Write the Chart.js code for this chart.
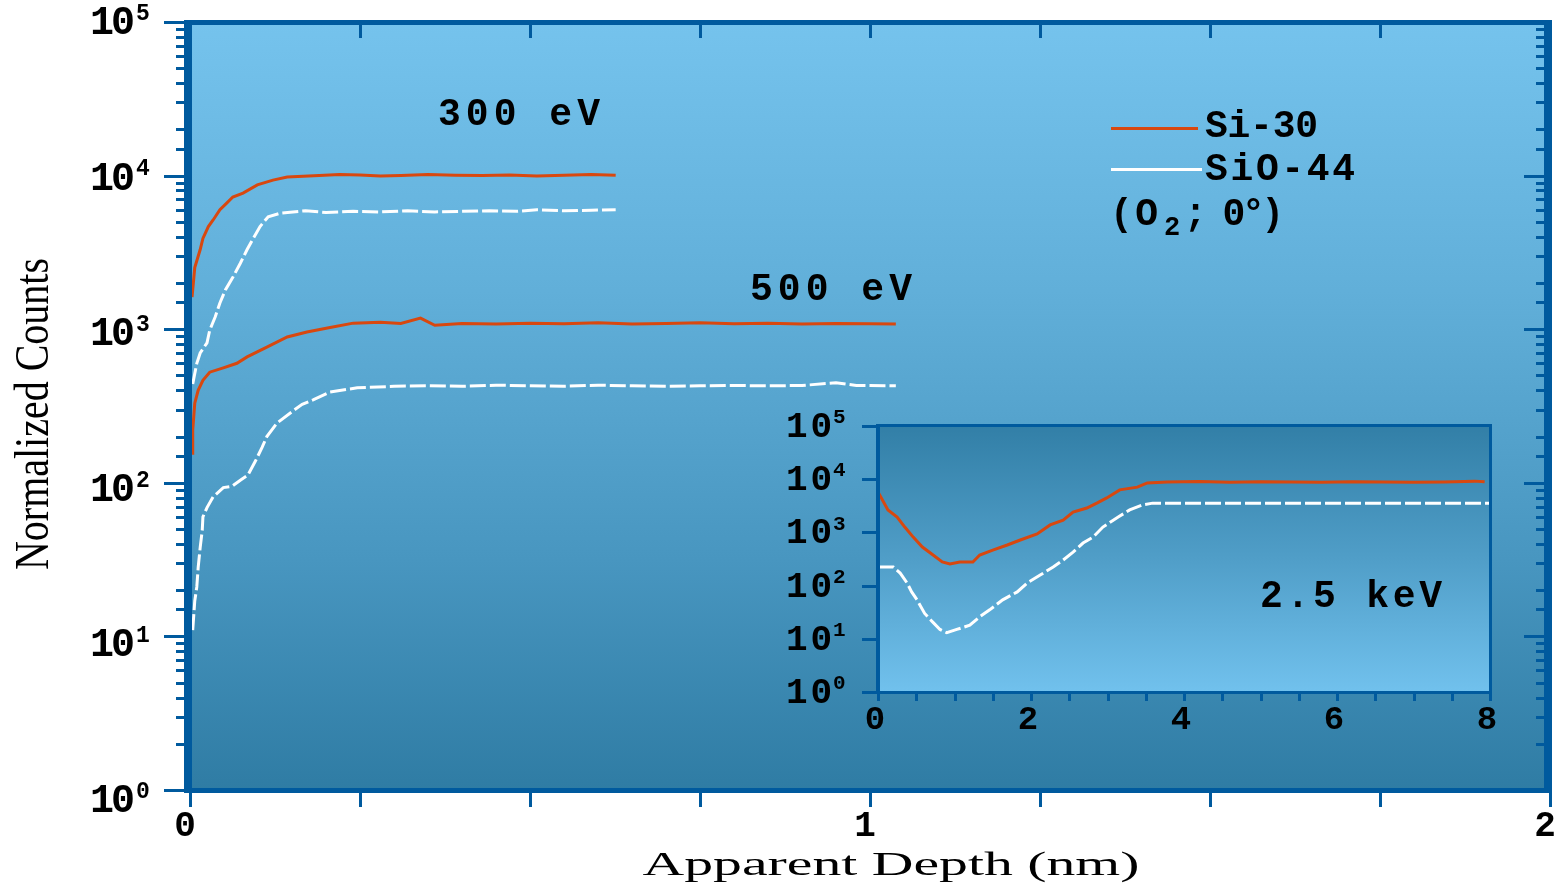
<!DOCTYPE html>
<html>
<head>
<meta charset="utf-8">
<title>Normalized Counts vs Apparent Depth</title>
<script src="https://cdn.jsdelivr.net/npm/chart.js@4.4.1/dist/chart.umd.min.js"></script>
<style>
  html, body { margin: 0; padding: 0; background: #fff; }
  #wrap { position: relative; width: 1557px; height: 886px; overflow: hidden; }
  canvas { position: absolute; }
  #depthChart { left: 0; top: 0; }
  #insetChart { left: 740px; top: 400px; }
</style>
</head>
<body>
<div id="wrap">
  <canvas id="depthChart" width="1557" height="886"></canvas>
  <canvas id="insetChart" width="790" height="345"></canvas>
</div>
<script>
// ---- values ----
// main plot, 300 eV
const depth300Si = [0.003, 0.007, 0.015, 0.019, 0.027, 0.034, 0.044, 0.054, 0.063, 0.078, 0.099, 0.122, 0.143,
  0.19, 0.22, 0.25, 0.28, 0.31, 0.35, 0.39, 0.43, 0.47, 0.51, 0.55, 0.59, 0.626];
const counts300Si = [1620, 2520, 3300, 3900, 4660, 5140, 6000, 6620, 7250, 7700, 8700, 9350, 9800,
  10000, 10150, 10100, 9950, 10000, 10150, 10050, 10000, 10100, 9950, 10050, 10150, 10050];
const depth300SiO = [0.004, 0.010, 0.015, 0.025, 0.029, 0.037, 0.044, 0.052, 0.063, 0.074, 0.084, 0.093, 0.103, 0.115, 0.133,
  0.17, 0.2, 0.24, 0.28, 0.32, 0.36, 0.40, 0.44, 0.48, 0.51, 0.55, 0.59, 0.626];
const counts300SiO = [440, 600, 700, 815, 985, 1200, 1480, 1800, 2180, 2690, 3300, 3900, 4660, 5400, 5700,
  5900, 5750, 5850, 5800, 5900, 5800, 5850, 5900, 5850, 6000, 5900, 5950, 6000];

// main plot, 500 eV
const depth500Si = [0.003, 0.004, 0.007, 0.012, 0.019, 0.029, 0.049, 0.069, 0.084, 0.113, 0.143, 0.172, 0.206, 0.24,
  0.28, 0.31, 0.339, 0.36, 0.4, 0.45, 0.5, 0.55, 0.6, 0.65, 0.7, 0.75, 0.8, 0.85, 0.9, 0.95, 1.0, 1.038];
const counts500Si = [156, 220, 330, 400, 465, 525, 560, 600, 660, 765, 890, 960, 1025, 1095,
  1110, 1090, 1180, 1060, 1090, 1080, 1095, 1085, 1100, 1080, 1090, 1100, 1085, 1095, 1080, 1090, 1085, 1080];
const depth500SiO = [0.004, 0.007, 0.010, 0.012, 0.015, 0.018, 0.019, 0.025, 0.034, 0.049, 0.062, 0.074, 0.085, 0.096,
  0.106, 0.113, 0.128, 0.152, 0.165, 0.181, 0.206, 0.246,
  0.3, 0.35, 0.4, 0.45, 0.5, 0.55, 0.6, 0.65, 0.7, 0.75, 0.8, 0.85, 0.9, 0.95, 0.98, 1.038];
const counts500SiO = [11, 17, 21, 28, 38, 49, 60, 69, 81, 93, 95, 104, 112, 138, 170, 200, 245, 295, 324, 347, 390, 415,
  425, 428, 425, 432, 428, 425, 432, 428, 425, 428, 430, 428, 430, 448, 430, 428];

// inset, 2.5 keV
const insetDepthSi = [0, 0.13, 0.25, 0.35, 0.46, 0.58, 0.72, 0.84, 0.94, 1.07, 1.24, 1.33, 1.50, 1.69, 1.86, 2.08, 2.25,
  2.42, 2.55, 2.73, 2.86, 2.99, 3.16, 3.39, 3.52, 3.78, 4.2, 4.6, 5.0, 5.4, 5.8, 6.2, 6.6, 7.0, 7.4, 7.8, 7.93];
const insetCountsSi = [5750, 2640, 1950, 1260, 815, 530, 375, 278, 255, 278, 278, 375, 465, 580, 720, 935, 1380,
  1700, 2400, 2870, 3550, 4450, 6300, 7100, 8500, 8900, 9100, 8800, 9000, 8900, 8800, 9000, 8900, 8800, 8900, 9200, 9000];
const insetDepthSiO = [0, 0.2, 0.29, 0.38, 0.44, 0.51, 0.61, 0.71, 0.81, 0.90, 1.03, 1.20, 1.33, 1.46, 1.63, 1.82,
  1.95, 2.12, 2.29, 2.42, 2.55, 2.68, 2.81, 2.94, 3.14, 3.29, 3.46, 3.59, 4.5, 5.5, 6.5, 8.0];
const insetCountsSiO = [224, 224, 172, 112, 76, 54, 30, 21, 15, 13, 15, 18, 26, 35, 54, 76,
  112, 158, 224, 302, 427, 630, 815, 1260, 1950, 2640, 3300, 3550, 3550, 3550, 3550, 3550];

// labels
const seriesNames = ["Si-30", "SiO-44"];
const beamNote = ["(O", "2", "; 0°)"]; // (O₂; 0°) with a lowered 2
const energyLabels = ["300 eV", "500 eV", "2.5 keV"];
const xTitle = "Apparent Depth (nm)";
const yTitle = "Normalized Counts";

// ---- styles ----
const siColor = "#d8480f";
const sioColor = "#ffffff";
const axisBlue = "#005a9e";
const monoFont = "'Liberation Mono', 'DejaVu Sans Mono', monospace";
const serifFont = "'Liberation Serif', 'DejaVu Serif', serif";

function toPoints(xs, ys) {
  return xs.map((x, i) => ({ x: x, y: ys[i] }));
}

function decadeOf(v) {
  const e = Math.round(Math.log10(v));
  return Math.abs(v - Math.pow(10, e)) < 1e-6 * v ? e : null;
}

// text stretched to a given width by letter spacing
function spacedText(ctx, text, left, midY, font, width) {
  ctx.font = font;
  ctx.letterSpacing = "0px";
  const natural = ctx.measureText(text).width;
  const gap = text.length > 1 ? (width - natural) / (text.length - 1) : 0;
  ctx.letterSpacing = gap + "px";
  ctx.textAlign = "left";
  ctx.textBaseline = "middle";
  ctx.fillText(text, left, midY);
  ctx.letterSpacing = "0px";
}

// text squeezed / stretched horizontally to a given width
function scaledText(ctx, text, cx, midY, font, width) {
  ctx.save();
  ctx.font = font;
  const natural = ctx.measureText(text).width;
  ctx.translate(cx, midY);
  ctx.scale(width / natural, 1);
  ctx.textAlign = "center";
  ctx.textBaseline = "middle";
  ctx.fillText(text, 0, 0);
  ctx.restore();
}

// "10" with a raised exponent
function powerLabel(ctx, e, left, mid, baseFont, baseWidth, expFont) {
  spacedText(ctx, "10", left, mid, baseFont, baseWidth);
  ctx.font = expFont;
  ctx.textAlign = "left";
  ctx.textBaseline = "middle";
  ctx.fillText(String(e), left + baseWidth + 1, mid - 10);
}

function lineSet(label, xs, ys, color, dashed) {
  return {
    label: label,
    data: toPoints(xs, ys),
    borderColor: color,
    borderWidth: 3,
    borderDash: dashed ? [16, 4] : [],
    pointRadius: 0,
    tension: 0,
    fill: false,
  };
}

// ---- main chart ----
const mainFrame = {
  id: "mainFrame",
  beforeDraw(chart) {
    const { ctx, chartArea: a } = chart;
    const g = ctx.createLinearGradient(0, a.top, 0, a.bottom);
    g.addColorStop(0, "rgb(117,195,237)");
    g.addColorStop(0.35, "rgb(97,175,217)");
    g.addColorStop(0.7, "rgb(72,150,192)");
    g.addColorStop(1, "rgb(47,124,164)");
    ctx.save();
    ctx.fillStyle = g;
    ctx.fillRect(a.left, a.top, a.right - a.left, a.bottom - a.top);
    ctx.restore();
  },
  afterDatasetsDraw(chart) {
    const { ctx, chartArea: a, scales } = chart;
    const x = scales.x, y = scales.y;
    ctx.save();
    ctx.fillStyle = axisBlue;
    y.ticks.forEach(t => {
      const py = Math.round(y.getPixelForValue(t.value));
      const len = decadeOf(t.value) !== null ? 20 : 8;
      ctx.fillRect(a.left - 6 - len, py - 1, len, 3);
      ctx.fillRect(a.right - 6 - len, py - 1, len, 3);
    });
    x.ticks.forEach(t => {
      const px = Math.round(x.getPixelForValue(t.value));
      ctx.fillRect(px - 1, a.bottom + 3, 3, 14);
      ctx.fillRect(px - 1, a.top + 3, 3, 13);
    });
    ctx.fillRect(a.left - 6, a.top - 2, a.right - a.left + 8, 5);
    ctx.fillRect(a.left - 6, a.bottom - 2, a.right - a.left + 8, 5);
    ctx.fillRect(a.left - 6, a.top - 2, 8, a.bottom - a.top + 5);
    ctx.fillRect(a.right - 6, a.top - 2, 8, a.bottom - a.top + 5);
    ctx.restore();
  },
  afterDraw(chart) {
    const { ctx, scales } = chart;
    const x = scales.x, y = scales.y;
    ctx.save();
    ctx.fillStyle = "#000";
    // y tick labels
    y.ticks.forEach(t => {
      const e = decadeOf(t.value);
      if (e === null) return;
      const mid = y.getPixelForValue(t.value) + 2 + (5 - e) * 2;
      powerLabel(ctx, e, 90, mid, "bold 40px " + monoFont, 45, "bold 23px " + monoFont);
    });
    // x tick labels
    ctx.font = "bold 36px " + monoFont;
    ctx.textAlign = "center";
    ctx.textBaseline = "middle";
    x.ticks.forEach(t => {
      if (Math.abs(t.value - Math.round(t.value)) > 1e-9) return;
      ctx.fillText(String(Math.round(t.value)), x.getPixelForValue(t.value) - 5, 827);
    });
    // axis titles
    scaledText(ctx, xTitle, 891, 866, "34px " + serifFont, 497);
    ctx.save();
    ctx.translate(35, 414);
    ctx.rotate(-Math.PI / 2);
    scaledText(ctx, yTitle, 0, 0, "48px " + serifFont, 312);
    ctx.restore();
    // energy labels
    spacedText(ctx, energyLabels[0], 438, 115, "bold 38px " + monoFont, 162);
    spacedText(ctx, energyLabels[1], 750, 290, "bold 38px " + monoFont, 162);
    // legend
    ctx.fillStyle = siColor;
    ctx.fillRect(1111, 127, 87, 3);
    ctx.fillStyle = sioColor;
    ctx.fillRect(1111, 168, 91, 3);
    ctx.fillStyle = "#000";
    spacedText(ctx, seriesNames[0], 1205, 127, "bold 38px " + monoFont, 113);
    spacedText(ctx, seriesNames[1], 1205, 170, "bold 38px " + monoFont, 150);
    spacedText(ctx, beamNote[0], 1110, 215, "bold 38px " + monoFont, 48);
    spacedText(ctx, beamNote[1], 1164, 228, "bold 27px " + monoFont, 16);
    spacedText(ctx, beamNote[2], 1184, 215, "bold 38px " + monoFont, 100);
    ctx.restore();
  },
};

new Chart(document.getElementById("depthChart"), {
  type: "line",
  data: {
    datasets: [
      lineSet(seriesNames[0] + " 300 eV", depth300Si, counts300Si, siColor, false),
      lineSet(seriesNames[1] + " 300 eV", depth300SiO, counts300SiO, sioColor, true),
      lineSet(seriesNames[0] + " 500 eV", depth500Si, counts500Si, siColor, false),
      lineSet(seriesNames[1] + " 500 eV", depth500SiO, counts500SiO, sioColor, true),
    ],
  },
  options: {
    responsive: false,
    animation: false,
    layout: { padding: { top: 22, right: 7, left: 0, bottom: 0 } },
    plugins: { legend: { display: false }, tooltip: { enabled: false } },
    scales: {
      x: {
        type: "linear",
        min: 0,
        max: 2,
        grid: { display: false, drawTicks: false },
        border: { display: false },
        ticks: { display: false, stepSize: 0.25, autoSkip: false },
        afterFit(s) { s.height = 96; s.paddingLeft = 0; s.paddingRight = 0; },
      },
      y: {
        type: "logarithmic",
        min: 1,
        max: 100000,
        grid: { display: false, drawTicks: false },
        border: { display: false },
        ticks: { display: false, autoSkip: false },
        afterFit(s) { s.width = 190; s.paddingTop = 0; s.paddingBottom = 0; },
      },
    },
  },
  plugins: [mainFrame],
});

// ---- inset chart ----
const insetFrame = {
  id: "insetFrame",
  beforeDraw(chart) {
    const { ctx, chartArea: a } = chart;
    const g = ctx.createLinearGradient(0, a.top, 0, a.bottom);
    g.addColorStop(0, "rgb(50,127,167)");
    g.addColorStop(0.5, "rgb(80,158,200)");
    g.addColorStop(1, "rgb(113,193,237)");
    ctx.save();
    ctx.fillStyle = g;
    ctx.fillRect(a.left, a.top, a.right - a.left, a.bottom - a.top);
    ctx.restore();
  },
  afterDatasetsDraw(chart) {
    const { ctx, chartArea: a, scales } = chart;
    const x = scales.x, y = scales.y;
    ctx.save();
    ctx.fillStyle = axisBlue;
    y.ticks.forEach(t => {
      if (decadeOf(t.value) === null) return;
      const py = Math.round(y.getPixelForValue(t.value));
      ctx.fillRect(a.left - 16, py - 1, 14, 3);
    });
    x.ticks.forEach(t => {
      const px = Math.round(x.getPixelForValue(t.value));
      ctx.fillRect(px - 1, a.bottom + 2, 3, 7);
    });
    ctx.fillRect(a.left - 2, a.top - 2, a.right - a.left + 4, 3);
    ctx.fillRect(a.left - 2, a.bottom - 1, a.right - a.left + 4, 3);
    ctx.fillRect(a.left - 2, a.top - 2, 4, a.bottom - a.top + 4);
    ctx.fillRect(a.right - 1, a.top - 2, 3, a.bottom - a.top + 4);
    ctx.restore();
  },
  afterDraw(chart) {
    const { ctx, scales } = chart;
    const x = scales.x, y = scales.y;
    ctx.save();
    ctx.fillStyle = "#000";
    y.ticks.forEach(t => {
      const e = decadeOf(t.value);
      if (e === null) return;
      const mid = y.getPixelForValue(t.value) + 2;
      powerLabel(ctx, e, 46, mid, "bold 36px " + monoFont, 46, "bold 21px " + monoFont);
    });
    ctx.font = "bold 34px " + monoFont;
    ctx.textAlign = "center";
    ctx.textBaseline = "middle";
    x.ticks.forEach(t => {
      const v = Math.round(t.value);
      if (Math.abs(t.value - v) > 1e-9 || v % 2 !== 0) return;
      ctx.fillText(String(v), x.getPixelForValue(t.value) - 3, 320);
    });
    spacedText(ctx, energyLabels[2], 520, 197, "bold 38px " + monoFont, 182);
    ctx.restore();
  },
};

new Chart(document.getElementById("insetChart"), {
  type: "line",
  data: {
    datasets: [
      lineSet(seriesNames[0] + " 2.5 keV", insetDepthSi, insetCountsSi, siColor, false),
      lineSet(seriesNames[1] + " 2.5 keV", insetDepthSiO, insetCountsSiO, sioColor, true),
    ],
  },
  options: {
    responsive: false,
    animation: false,
    layout: { padding: { top: 26, right: 40, left: 0, bottom: 0 } },
    plugins: { legend: { display: false }, tooltip: { enabled: false } },
    scales: {
      x: {
        type: "linear",
        min: 0,
        max: 8,
        grid: { display: false, drawTicks: false },
        border: { display: false },
        ticks: { display: false, stepSize: 0.5, autoSkip: false },
        afterFit(s) { s.height = 53; s.paddingLeft = 0; s.paddingRight = 0; },
      },
      y: {
        type: "logarithmic",
        min: 1,
        max: 100000,
        grid: { display: false, drawTicks: false },
        border: { display: false },
        ticks: { display: false, autoSkip: false },
        afterFit(s) { s.width = 138; s.paddingTop = 0; s.paddingBottom = 0; },
      },
    },
  },
  plugins: [insetFrame],
});
</script>
</body>
</html>
